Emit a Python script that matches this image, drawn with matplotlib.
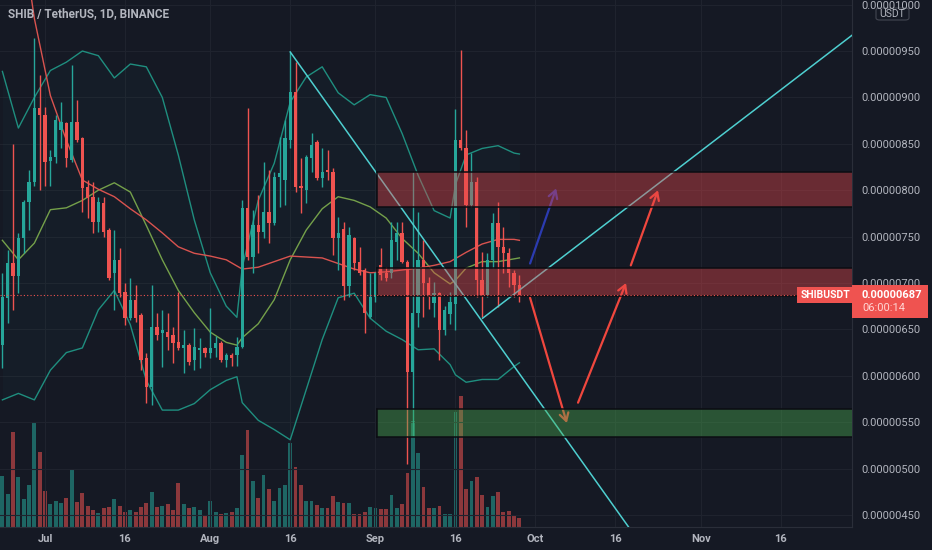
import matplotlib
matplotlib.use("Agg")
import matplotlib.pyplot as plt
import matplotlib.dates as mdates
from matplotlib.patches import Rectangle, FancyBboxPatch
from matplotlib.ticker import FuncFormatter
import numpy as np
import pandas as pd

# prices are kept in units of 1e-8 USDT
SCALE = 1e-8
START = "2021-06-23"

OPEN = [633, 684, 722, 707, 748, 787, 809, 889, 881, 832, 836, 865, 872, 833, 874, 856,
        803, 793, 766, 786, 757, 711, 725, 690, 662, 682, 665, 619, 588, 653, 646, 647,
        644, 636, 630, 633, 617, 628, 630, 625, 630, 635, 617, 622, 622, 631, 781, 728,
        763, 755, 777, 765, 814, 811, 854, 906, 805, 800, 835, 852, 813, 822, 820, 748,
        758, 697, 749, 723, 714, 663, 685, 719, 711, 711, 744, 754, 723, 604, 668, 725,
        700, 678, 689, 649, 667, 677, 854, 845, 784, 809, 703, 687, 725, 765, 739, 732,
        711, 698]
HIGH = [711, 736, 850, 754, 789, 822, 964, 924, 890, 843, 881, 895, 873, 935, 897, 857,
        811, 809, 793, 793, 759, 757, 738, 700, 705, 698, 668, 625, 698, 668, 671, 668,
        653, 690, 649, 635, 652, 641, 631, 673, 643, 638, 624, 624, 642, 789, 889, 779,
        795, 830, 822, 820, 857, 876, 949, 938, 835, 838, 862, 854, 845, 843, 824, 771,
        766, 760, 750, 739, 716, 711, 712, 738, 717, 766, 766, 766, 725, 820, 776, 746,
        706, 701, 690, 675, 690, 888, 951, 865, 840, 814, 733, 732, 775, 787, 760, 738,
        714, 709]
LOW = [608, 657, 671, 689, 732, 757, 804, 800, 804, 805, 829, 845, 825, 830, 852, 776,
       770, 754, 755, 750, 703, 671, 685, 655, 660, 658, 606, 571, 569, 639, 609, 628,
       614, 628, 603, 612, 606, 608, 620, 619, 620, 615, 609, 611, 611, 630, 725, 711,
       732, 748, 743, 762, 782, 784, 845, 798, 775, 786, 820, 811, 803, 811, 730, 714,
       682, 685, 714, 709, 646, 662, 680, 703, 702, 705, 725, 722, 505, 535, 653, 663,
       672, 663, 617, 644, 656, 649, 843, 760, 782, 685, 663, 685, 716, 674, 711, 696,
       685, 680]
CLOSE = [685, 722, 707, 748, 787, 809, 889, 881, 830, 836, 876, 873, 835, 873, 854, 802,
         792, 766, 787, 755, 705, 725, 689, 662, 682, 662, 617, 588, 653, 644, 649, 642,
         635, 630, 633, 615, 631, 630, 625, 630, 635, 617, 622, 619, 631, 781, 728, 763,
         755, 777, 765, 814, 819, 856, 906, 803, 802, 836, 849, 813, 820, 820, 748, 754,
         697, 752, 722, 711, 668, 685, 711, 709, 705, 746, 754, 723, 604, 668, 725, 700,
         685, 689, 649, 671, 679, 854, 845, 784, 809, 703, 687, 725, 765, 739, 732, 711,
         698, 687]
VOLUME = [153, 100, 285, 150, 85, 128, 315, 225, 110, 68,
          78, 72, 86, 172, 76, 103, 63, 50, 42, 57,
          59, 83, 63, 44, 50, 46, 60, 73, 106, 59,
          63, 68, 50, 133, 68, 56, 60, 50, 37, 78,
          45, 38, 42, 45, 56, 216, 293, 140, 86, 158,
          114, 78, 118, 128, 254, 181, 126, 78, 78, 66,
          56, 58, 92, 76, 71, 71, 40, 40, 45, 60,
          58, 53, 53, 95, 56, 68, 164, 320, 222, 122,
          56, 56, 64, 40, 40, 348, 395, 116, 140, 150,
          96, 60, 93, 106, 46, 48, 33, 27]

# Bollinger bands (20, 2) at these candle indices
BB_IDX = [0, 3, 6, 9, 12, 15, 18, 21, 24, 27, 30, 33, 36, 39, 42, 44, 45, 48, 51, 54,
          57, 60, 63, 66, 69, 72, 75, 78, 81, 84, 85, 87, 90, 93, 96, 97]
BB_UPPER = [928, 867, 900, 929, 938, 950, 945, 921, 936, 933, 900, 838, 768, 711, 675, 663,
            717, 789, 829, 895, 922, 933, 905, 892, 903, 900, 861, 816, 778, 770, 806, 838,
            845, 848, 840, 839]
BB_BASIS = [746, 725, 743, 779, 781, 789, 800, 808, 798, 762, 725, 692, 668, 647, 636, 633,
            641, 656, 682, 725, 757, 780, 793, 789, 782, 770, 748, 732, 711, 699, 703, 716,
            723, 723, 726, 727]
BB_LOWER = [574, 581, 574, 606, 625, 630, 671, 692, 655, 595, 563, 563, 570, 585, 595, 599,
            571, 552, 542, 531, 585, 639, 684, 689, 662, 648, 639, 628, 629, 612, 601, 593,
            596, 596, 610, 614]

# longer moving average (red)
MA_IDX = [4, 5, 6, 9, 12, 15, 18, 21, 24, 27, 30, 33, 36, 39, 42, 45, 48, 51, 54, 57,
          60, 63, 66, 69, 72, 75, 78, 81, 84, 87, 90, 93, 96, 97]
MA_VALUES = [1060, 1024, 985, 902, 854, 811, 801, 793, 780, 768, 754, 739, 732, 729, 725,
             715, 717, 723, 729, 728, 727, 721, 715, 711, 712, 714, 716, 719, 723, 733,
             742, 747, 747, 746]

# drawings: (day offset from START, price)
TREND_DOWN = [(54, 949), (100, 578)]
TREND_UP = [(90.1, 662), (159.4, 967)]
ZONE_START = 70.2
ZONES = [(782, 820, "#e8474a"), (686, 716, "#e8474a"), (534, 564, "#4caf50")]
ARROWS = [((99.0, 721), (103.9, 802), "#2b3bb0"),
          ((99.0, 684), (105.9, 549), "#f0473e"),
          ((108.0, 571), (117.0, 700), "#f0473e"),
          ((117.9, 719), (123.0, 800), "#f0473e")]

Y_MIN, Y_MAX = 437, 1005
X_LEFT, X_RIGHT = -0.45, 159.4
VOL_TOP = 1589

BG = "#151924"
GRID = "#1f232e"
TEXT = "#b2b5be"
UP = "#26a69a"
DOWN = "#ef5350"

plt.rcParams["font.family"] = ["Roboto", "DejaVu Sans"]

dates = pd.date_range(START, periods=len(CLOSE), freq="D")
x0 = mdates.date2num(dates[0])
x = mdates.date2num(dates)
o = np.array(OPEN) * SCALE
h = np.array(HIGH) * SCALE
l = np.array(LOW) * SCALE
c = np.array(CLOSE) * SCALE
up = c >= o

fig = plt.figure(figsize=(9.32, 5.5), dpi=100, facecolor=BG)
rect = [0, 23 / 550, 852 / 932, 527 / 550]
ax = fig.add_axes(rect)
ax_vol = fig.add_axes(rect, sharex=ax)
ax_vol.set_zorder(0)
ax.set_zorder(1)
ax.patch.set_visible(False)

# volume
vol_colors = np.where(up, UP, DOWN)
ax_vol.bar(x, VOLUME, width=0.72, color=vol_colors, alpha=0.55, linewidth=0)
ax_vol.set_ylim(0, VOL_TOP)
ax_vol.axis("off")

# grid
ax.grid(True, color=GRID, linewidth=0.8, zorder=0)
ax.set_axisbelow(True)

# bollinger bands and moving average
bx = x0 + np.array(BB_IDX)
ax.fill_between(bx, np.array(BB_LOWER) * SCALE, np.array(BB_UPPER) * SCALE,
                color=UP, alpha=0.035, linewidth=0, zorder=1)
ax.plot(bx, np.array(BB_UPPER) * SCALE, color="#1f8e7f", lw=1.0, zorder=2)
ax.plot(bx, np.array(BB_LOWER) * SCALE, color="#1f8e7f", lw=1.0, zorder=2)
ax.plot(bx, np.array(BB_BASIS) * SCALE, color="#74a04a", lw=1.0, zorder=2)
ax.plot(x0 + np.array(MA_IDX), np.array(MA_VALUES) * SCALE, color="#d9534f", lw=1.0, zorder=2)

# candles
colors = np.where(up, UP, DOWN)
ax.vlines(x, l, h, colors=colors, linewidth=1.0, zorder=3)
body = np.maximum(np.abs(c - o), 1.2 * SCALE)
ax.bar(x, body, bottom=np.minimum(o, c), width=0.62, color=colors, linewidth=0, zorder=3)

# trend lines
(a_i, a_p), (b_i, b_p) = TREND_DOWN
slope = (b_p - a_p) / (b_i - a_i)
ax.plot([x0 + a_i, x0 + 130], [a_p * SCALE, (a_p + slope * (130 - a_i)) * SCALE],
        color="#4ecfd0", lw=1.1, zorder=4)
(a_i, a_p), (b_i, b_p) = TREND_UP
ax.plot([x0 + a_i, x0 + b_i], [a_p * SCALE, b_p * SCALE], color="#4ecfd0", lw=1.1, zorder=4)

# arrows
for (si, sp), (ei, ep), col in ARROWS:
    ax.annotate("", xy=(x0 + ei, ep * SCALE), xytext=(x0 + si, sp * SCALE),
                arrowprops=dict(arrowstyle="->,head_length=0.55,head_width=0.32",
                                color=col, lw=1.6, shrinkA=0, shrinkB=0), zorder=5)

# zones
for lo, hi, col in ZONES:
    ax.add_patch(Rectangle((x0 + ZONE_START, lo * SCALE), X_RIGHT - ZONE_START + 1,
                           (hi - lo) * SCALE, facecolor=col, alpha=0.4,
                           edgecolor="none", zorder=6))
    for edge in (lo, hi):
        ax.plot([x0 + ZONE_START, x0 + X_RIGHT + 1], [edge * SCALE] * 2,
                color="#0b0d12", lw=1.1, zorder=6)
    ax.plot([x0 + ZONE_START] * 2, [lo * SCALE, hi * SCALE], color="#0b0d12", lw=1.1, zorder=6)

# last price line
last = CLOSE[-1]
ax.axhline(last * SCALE, color=DOWN, lw=0.8, linestyle=(0, (1, 2)), zorder=7)

ax.set_xlim(x0 + X_LEFT, x0 + X_RIGHT)
ax.set_ylim(Y_MIN * SCALE, Y_MAX * SCALE)

# axes styling
for side in ("top", "left"):
    ax.spines[side].set_visible(False)
for side in ("right", "bottom"):
    ax.spines[side].set_color("#2a2e39")
ax.yaxis.tick_right()
ax.set_yticks(np.arange(450, 1001, 50) * SCALE)
ax.yaxis.set_major_formatter(FuncFormatter(lambda v, p: f"{v:.8f}"))
ax.tick_params(axis="y", length=0, pad=6.5, labelcolor=TEXT, labelsize=8)

ax.xaxis.set_major_locator(mdates.DayLocator(bymonthday=[1, 16]))


def date_label(v, pos):
    d = mdates.num2date(v)
    return d.strftime("%b") if d.day == 1 else str(d.day)


ax.xaxis.set_major_formatter(FuncFormatter(date_label))
ax.tick_params(axis="x", length=0, pad=5, labelcolor=TEXT, labelsize=8)
for t in ax.get_xticklabels():
    t.set_fontweight("bold")

# title
fig.text(8 / 932, 1 - 14 / 550, "SHIB / TetherUS, 1D, BINANCE", color=TEXT,
         fontsize=8.5, fontweight="bold", va="center", ha="left")

# currency badge
fig.add_artist(FancyBboxPatch((876 / 932, 1 - 20 / 550), 33 / 932, 12 / 550,
                              boxstyle="round,pad=0,rounding_size=0.004",
                              transform=fig.transFigure, facecolor=BG,
                              edgecolor="#434651", lw=0.8))
fig.text(892.5 / 932, 1 - 14 / 550, "USDT", color=TEXT, fontsize=7.5, ha="center", va="center")

# symbol label and last price badge
ax.text(0.9977, last * SCALE, "SHIBUSDT", transform=ax.get_yaxis_transform(),
        ha="right", va="center", color="white", fontsize=7.5, fontweight="bold",
        bbox=dict(boxstyle="square,pad=0.3", fc=DOWN, ec="none"), zorder=9)
yf = (last - Y_MIN) / (Y_MAX - Y_MIN)
ax.add_patch(Rectangle((1.0, yf - 23 / 527), 76 / 852, 33 / 527, transform=ax.transAxes,
                       facecolor=DOWN, edgecolor="none", clip_on=False, zorder=9))
ax.text(1 + 10 / 852, yf, f"{last * SCALE:.8f}", transform=ax.transAxes, ha="left",
        va="center", color="white", fontsize=8, fontweight="bold", clip_on=False, zorder=10)
ax.text(1 + 10 / 852, yf - 12.5 / 527, "06:00:14", transform=ax.transAxes, ha="left",
        va="center", color="#ffd6d5", fontsize=8, clip_on=False, zorder=10)

fig.savefig("out.png", dpi=100, facecolor=BG)
